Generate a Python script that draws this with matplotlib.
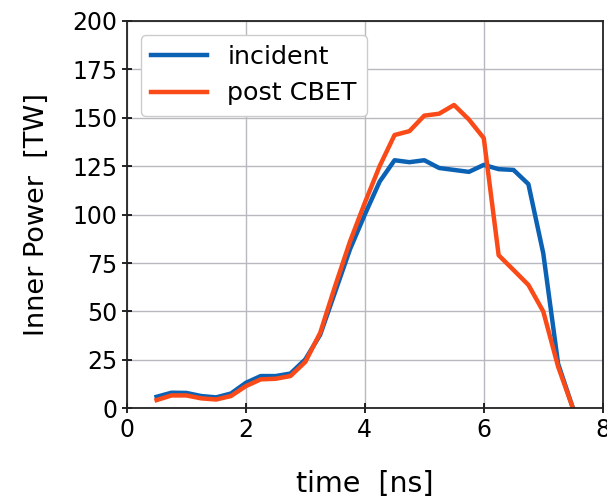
import matplotlib
matplotlib.use("Agg")
import matplotlib.pyplot as plt

# Laser power on the inner beams, before and after cross-beam energy transfer
time_ns = [0.5, 0.75, 1.0, 1.25, 1.5, 1.75, 2.0, 2.25, 2.5, 2.75, 3.0, 3.25,
           3.5, 3.75, 4.0, 4.25, 4.5, 4.75, 5.0, 5.25, 5.5, 5.75, 6.0, 6.25,
           6.5, 6.75, 7.0, 7.25, 7.5]
incident_tw = [6.0, 8.1, 8.0, 6.4, 5.7, 7.7, 13.2, 16.7, 16.7, 18.0, 25.3, 38.0,
               60.0, 82.0, 100.0, 117.0, 128.0, 127.0, 128.0, 124.0, 123.0, 122.0,
               125.6, 123.4, 123.0, 115.7, 80.0, 23.0, 0.0]
post_cbet_tw = [4.3, 6.7, 6.7, 5.2, 4.6, 6.4, 11.5, 15.0, 15.3, 16.7, 24.0, 39.0,
                63.0, 86.0, 106.0, 125.0, 141.0, 143.0, 151.0, 152.0, 156.5, 149.0,
                139.4, 79.0, 71.4, 63.7, 50.0, 21.5, 0.0]

x_ticks = [0, 2, 4, 6, 8]
y_ticks = [0, 25, 50, 75, 100, 125, 150, 175, 200]

plt.rcParams["font.family"] = ["DejaVu Sans"]

fig = plt.figure(figsize=(6.07, 5.03), dpi=100)
ax = fig.add_axes([0.209, 0.188, 0.784, 0.771])

ax.plot(time_ns, incident_tw, color="#0b62b5", lw=3.2, label="incident")
ax.plot(time_ns, post_cbet_tw, color="#fa4a18", lw=3.2, label="post CBET")

ax.set_xlim(0, 8)
ax.set_ylim(0, 200)
ax.set_xticks(x_ticks)
ax.set_yticks(y_ticks)
ax.grid(True, color="#b8b8c0", lw=1.0)
ax.tick_params(direction="inout", length=7, width=1.2, labelsize=17)
for s in ax.spines.values():
    s.set_linewidth(1.3)
    s.set_color("#222222")

ax.set_xlabel("time  [ns]", fontsize=20.5, labelpad=20)
ax.set_ylabel("Inner Power  [TW]", fontsize=19.5, labelpad=16)

ax.legend(loc="upper left", fontsize=18.3, handlelength=2.2,
          borderaxespad=0.55, fancybox=True, framealpha=1.0)

fig.savefig("out.png", dpi=100)
